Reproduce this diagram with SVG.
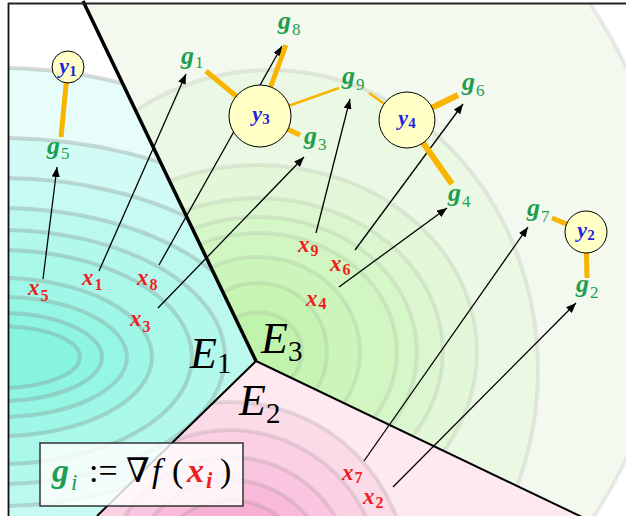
<svg xmlns="http://www.w3.org/2000/svg" width="626" height="516" viewBox="0 0 626 516">
<defs>
<clipPath id="cE1"><polygon points="8,3 83,3 256,361 97,516 8,516"/></clipPath>
<clipPath id="cE3"><polygon points="83,3 626,3 626,516 580,516 256,361"/></clipPath>
<clipPath id="cE2"><polygon points="256,361 580,516 97,516"/></clipPath>
<marker id="ah" markerUnits="userSpaceOnUse" markerWidth="10" markerHeight="8" refX="10" refY="4" orient="auto"><path d="M0,0 L10,4 L0,8 z" fill="#000"/></marker>
</defs>
<style>
.ct{stroke:#808080;stroke-width:4}
.r1 .ct{stroke-opacity:.3}
.r3 .ct{stroke-opacity:.14}
.r2 .ct{stroke-opacity:.2}
.bd{stroke:#000;fill:none}
.node{fill:#ffffc6;stroke:#000;stroke-width:1}
.or{stroke:#f7b500;fill:none}
.ar{stroke:#000;stroke-width:1.3;fill:none;marker-end:url(#ah)}
text{font-family:"Liberation Serif","DejaVu Serif",serif}
.gl{font-style:italic;font-weight:bold;fill:#1e9e50;font-size:26px}
.gs{font-style:normal;font-weight:normal;font-size:17px}
.xl{font-style:italic;font-weight:bold;fill:#f01e1e;font-size:23px}
.xs{font-style:normal;font-weight:bold;font-size:16px}
.yl{font-style:italic;font-weight:bold;fill:#2222dd;font-size:22px}
.ys{font-style:normal;font-weight:bold;font-size:15px}
.el{font-style:italic;font-size:44px;fill:#000}
.es{font-style:normal;font-size:29px}
</style>
<rect width="626" height="516" fill="#fff"/>
<g id="regionE1" class="r1" clip-path="url(#cE1)">
<ellipse class="ct" cx="0" cy="357" rx="380" ry="289" fill="#e6fdfa"/>
<ellipse class="ct" cx="0" cy="357" rx="350" ry="219" fill="#d3fbf5"/>
<ellipse class="ct" cx="0" cy="357" rx="300" ry="179" fill="#c6faf2"/>
<ellipse class="ct" cx="0" cy="357" rx="260" ry="149" fill="#bbf9ef"/>
<ellipse class="ct" cx="0" cy="357" rx="225" ry="127" fill="#b2f8ec"/>
<ellipse class="ct" cx="0" cy="357" rx="192" ry="107" fill="#a9f8ea"/>
<ellipse class="ct" cx="0" cy="357" rx="152" ry="79" fill="#9ff7e7"/>
<ellipse class="ct" cx="0" cy="357" rx="127" ry="60" fill="#96f6e4"/>
<ellipse class="ct" cx="0" cy="357" rx="102" ry="44" fill="#8ef5e2"/>
<ellipse class="ct" cx="0" cy="357" rx="80" ry="31" fill="#86f4df"/>
</g>
<g id="regionE3" class="r3" clip-path="url(#cE3)">
<circle class="ct" cx="210" cy="263" r="460" fill="#f3f9ee"/>
<ellipse class="ct" cx="270" cy="370" rx="268" ry="300" fill="#ebf8e3"/>
<ellipse class="ct" cx="258" cy="352" rx="219" ry="187" fill="#e3f8d8"/>
<ellipse class="ct" cx="258" cy="352" rx="185" ry="154" fill="#dcf7cf"/>
<ellipse class="ct" cx="258" cy="352" rx="159" ry="135" fill="#d6f7c8"/>
<ellipse class="ct" cx="258" cy="352" rx="139" ry="119" fill="#d1f6c2"/>
<ellipse class="ct" cx="258" cy="352" rx="102" ry="95" fill="#cbf5ba"/>
<ellipse class="ct" cx="258" cy="352" rx="69" ry="69" fill="#c6f4b3"/>
<ellipse class="ct" cx="258" cy="352" rx="44" ry="40" fill="#c0f3ab"/>
</g>
<g id="regionE2" class="r2" clip-path="url(#cE2)">
<polygon points="256,361 580,516 97,516" fill="#fde9ef"/>
<circle class="ct" cx="230" cy="580" r="178" fill="#fcdbe9"/>
<circle class="ct" cx="230" cy="580" r="150" fill="#fbd0e3"/>
<circle class="ct" cx="230" cy="580" r="123" fill="#fac5de"/>
<circle class="ct" cx="230" cy="580" r="100" fill="#f9bad9"/>
<circle class="ct" cx="230" cy="580" r="80" fill="#f8afd4"/>
<circle class="ct" cx="230" cy="580" r="60" fill="#f7a5cf"/>
<circle class="ct" cx="230" cy="580" r="40" fill="#f69bca"/>
</g>
<g id="boundaries">
<line class="bd" x1="83" y1="1" x2="256" y2="361" stroke-width="3.5"/>
<line class="bd" x1="256" y1="361" x2="97" y2="516" stroke-width="2" stroke="#222"/>
<line class="bd" x1="256" y1="361" x2="582" y2="517" stroke-width="2" stroke="#222"/>
</g>
<g id="regionLabels">
<text class="el" x="190" y="368">E<tspan class="es" dy="5">1</tspan></text>
<text class="el" x="261" y="353">E<tspan class="es" dy="8">3</tspan></text>
<text class="el" x="239" y="415">E<tspan class="es" dy="8">2</tspan></text>
</g>
<g id="connectors">
<line class="ar" x1="43" y1="279" x2="57" y2="167"/>
<line class="ar" x1="99" y1="271" x2="186" y2="74"/>
<line class="ar" x1="159" y1="265" x2="282" y2="46"/>
<line class="ar" x1="158" y1="308" x2="304" y2="157"/>
<line class="ar" x1="316" y1="233" x2="350" y2="99"/>
<line class="ar" x1="355" y1="250" x2="463" y2="104"/>
<line class="ar" x1="339" y1="287" x2="447" y2="208"/>
<line class="ar" x1="364" y1="461" x2="528" y2="227"/>
<line class="ar" x1="393" y1="487" x2="576" y2="303"/>
<line class="or" x1="67" y1="75" x2="61" y2="137" stroke-width="5"/>
<line class="or" x1="206" y1="71" x2="260" y2="116" stroke-width="5"/>
<line class="or" x1="286" y1="45" x2="260" y2="116" stroke-width="5"/>
<line class="or" x1="339" y1="88" x2="260" y2="116" stroke-width="2.5"/>
<line class="or" x1="300" y1="135" x2="260" y2="116" stroke-width="5"/>
<line class="or" x1="369" y1="93" x2="407" y2="120" stroke-width="2.5"/>
<line class="or" x1="458" y1="95" x2="407" y2="120" stroke-width="6"/>
<line class="or" x1="452" y1="184" x2="407" y2="120" stroke-width="6"/>
<line class="or" x1="552" y1="218" x2="586" y2="232" stroke-width="5"/>
<line class="or" x1="587" y1="278" x2="586" y2="232" stroke-width="5"/>
</g>
<g id="y1"><circle class="node" cx="68" cy="67" r="16"/><text class="yl" x="68" y="73" text-anchor="middle">y<tspan class="ys" dy="3">1</tspan></text></g>
<g id="y3"><circle class="node" cx="260" cy="116" r="31"/><text class="yl" x="261" y="121" text-anchor="middle">y<tspan class="ys" dy="3">3</tspan></text></g>
<g id="y4"><circle class="node" cx="407" cy="120" r="28"/><text class="yl" x="407" y="125" text-anchor="middle">y<tspan class="ys" dy="3">4</tspan></text></g>
<g id="y2"><circle class="node" cx="586" cy="232" r="21"/><text class="yl" x="586" y="237" text-anchor="middle">y<tspan class="ys" dy="3">2</tspan></text></g>
<g id="g-labels">
<text id="g5" class="gl" x="47" y="154">g<tspan class="gs" dx="1" dy="5">5</tspan></text>
<text id="g1" class="gl" x="181" y="64">g<tspan class="gs" dx="1" dy="4">1</tspan></text>
<text id="g8" class="gl" x="278" y="29">g<tspan class="gs" dx="1" dy="6">8</tspan></text>
<text id="g9" class="gl" x="342" y="84">g<tspan class="gs" dx="1" dy="6">9</tspan></text>
<text id="g3" class="gl" x="304" y="144">g<tspan class="gs" dx="1" dy="6">3</tspan></text>
<text id="g6" class="gl" x="462" y="90">g<tspan class="gs" dx="1" dy="6">6</tspan></text>
<text id="g4" class="gl" x="448" y="201">g<tspan class="gs" dx="1" dy="6">4</tspan></text>
<text id="g7" class="gl" x="527" y="216">g<tspan class="gs" dx="1" dy="6">7</tspan></text>
<text id="g2" class="gl" x="576" y="292">g<tspan class="gs" dx="1" dy="6">2</tspan></text>
</g>
<g id="x-labels">
<text id="x5" class="xl" x="28" y="295">x<tspan class="xs" dx="1" dy="6">5</tspan></text>
<text id="x1" class="xl" x="82" y="285">x<tspan class="xs" dx="1" dy="5">1</tspan></text>
<text id="x8" class="xl" x="137" y="285">x<tspan class="xs" dx="1" dy="5">8</tspan></text>
<text id="x3" class="xl" x="130" y="326">x<tspan class="xs" dx="1" dy="6">3</tspan></text>
<text id="x9" class="xl" x="298" y="252">x<tspan class="xs" dx="1" dy="4">9</tspan></text>
<text id="x6" class="xl" x="330" y="271">x<tspan class="xs" dx="1" dy="4">6</tspan></text>
<text id="x4" class="xl" x="306" y="306">x<tspan class="xs" dx="1" dy="3">4</tspan></text>
<text id="x7" class="xl" x="342" y="480">x<tspan class="xs" dx="1" dy="3">7</tspan></text>
<text id="x2" class="xl" x="363" y="504">x<tspan class="xs" dx="1" dy="4">2</tspan></text>
</g>
<g id="formula">
<rect x="40" y="443" width="203" height="63" fill="#fff" fill-opacity="0.82" stroke="#333" stroke-width="1.5"/>
<text y="482" font-size="34" fill="#000"><tspan x="52" font-style="italic" font-weight="bold" fill="#1e9e50">g</tspan><tspan x="71" y="490" font-size="23" font-style="italic" fill="#1e9e50">i</tspan><tspan x="89" y="482">:=</tspan><tspan x="126">∇</tspan><tspan x="152" font-style="italic">f</tspan><tspan x="172">(</tspan><tspan x="187" font-style="italic" font-weight="bold" fill="#f01e1e">x</tspan><tspan x="206" y="488" font-size="23" font-style="italic" font-weight="bold" fill="#f01e1e">i</tspan><tspan x="220" y="482">)</tspan></text>
</g>
<g id="frame">
<line x1="8.5" y1="3" x2="8.5" y2="516" stroke="#111" stroke-width="1.8"/>
<line x1="8" y1="3.5" x2="626" y2="3.5" stroke="#222" stroke-width="1.8"/>
</g>
</svg>
